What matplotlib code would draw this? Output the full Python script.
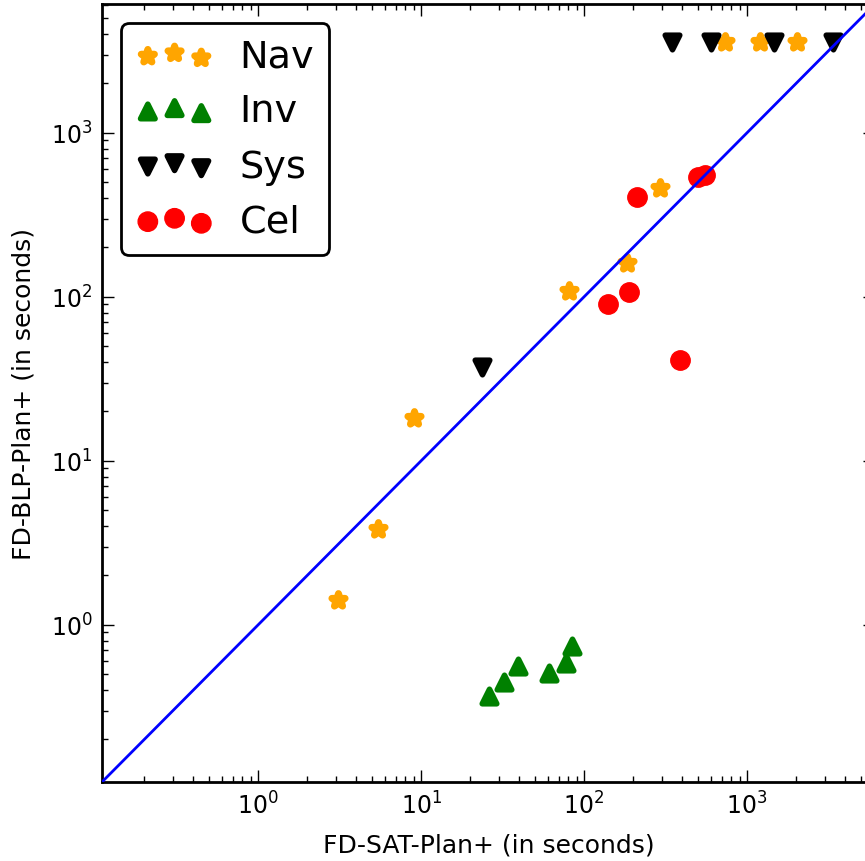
import matplotlib
matplotlib.use("Agg")
import matplotlib.pyplot as plt

# Nav (orange stars)
nav_x = [3.1, 5.45, 9.1, 81, 184, 293, 733, 1200, 2030]
nav_y = [1.42, 3.85, 18.3, 109, 161, 462, 3600, 3600, 3600]
# Inv (green up triangles)
inv_x = [26.1, 32.3, 39.4, 61, 77.6, 84.4]
inv_y = [0.369, 0.449, 0.562, 0.51, 0.586, 0.744]
# Sys (black down triangles)
sys_x = [23.7, 347, 601, 1465, 3372]
sys_y = [37.4, 3600, 3600, 3600, 3600]
# Cel (red circles)
cel_x = [140, 189, 211, 388, 500, 553]
cel_y = [90.6, 107, 407, 41.3, 539, 555]

lim = (0.11, 6100)

fig = plt.figure(figsize=(8.65, 8.62), dpi=100)
ax = fig.add_axes([102/865, 79/862, 773/865, 778/862])
ax.set_xscale('log')
ax.set_yscale('log')

series = [
    (nav_x, nav_y, '*', '#FFA500', 'Nav', 100, 5.0),
    (inv_x, inv_y, '^', '#008000', 'Inv', 110, 4.0),
    (sys_x, sys_y, 'v', 'black', 'Sys', 110, 4.0),
    (cel_x, cel_y, 'o', '#FF0000', 'Cel', 195, 1.0),
]
for x, y, m, c, lab, s, lw in series:
    sc = ax.scatter(x, y, marker=m, s=s, c=c, edgecolors=c, linewidths=lw,
                    label=lab, zorder=2)
    sc.set_joinstyle('round')

ax.plot(lim, lim, color='blue', lw=2.0, zorder=3)
ax.set_xlim(lim)
ax.set_ylim(lim)

ax.tick_params(which='both', direction='in', top=True, right=True)
ax.tick_params(which='major', length=8.6, width=1, labelsize=17, pad=7)
ax.tick_params(which='minor', length=4.3, width=1)
for sp in ax.spines.values():
    sp.set_linewidth(2)

ax.set_xlabel('FD-SAT-Plan+ (in seconds)', fontsize=18, labelpad=10)
ax.set_ylabel('FD-BLP-Plan+ (in seconds)', fontsize=18, labelpad=11)

leg = ax.legend(loc='upper left', scatterpoints=3, fontsize=27.5, fancybox=True,
                framealpha=1, edgecolor='black', borderaxespad=0.5,
                handletextpad=0.7)
leg.get_frame().set_linewidth(2)
for h in leg.legend_handles:
    h.set_joinstyle('round')

fig.savefig('out.png', dpi=100)
